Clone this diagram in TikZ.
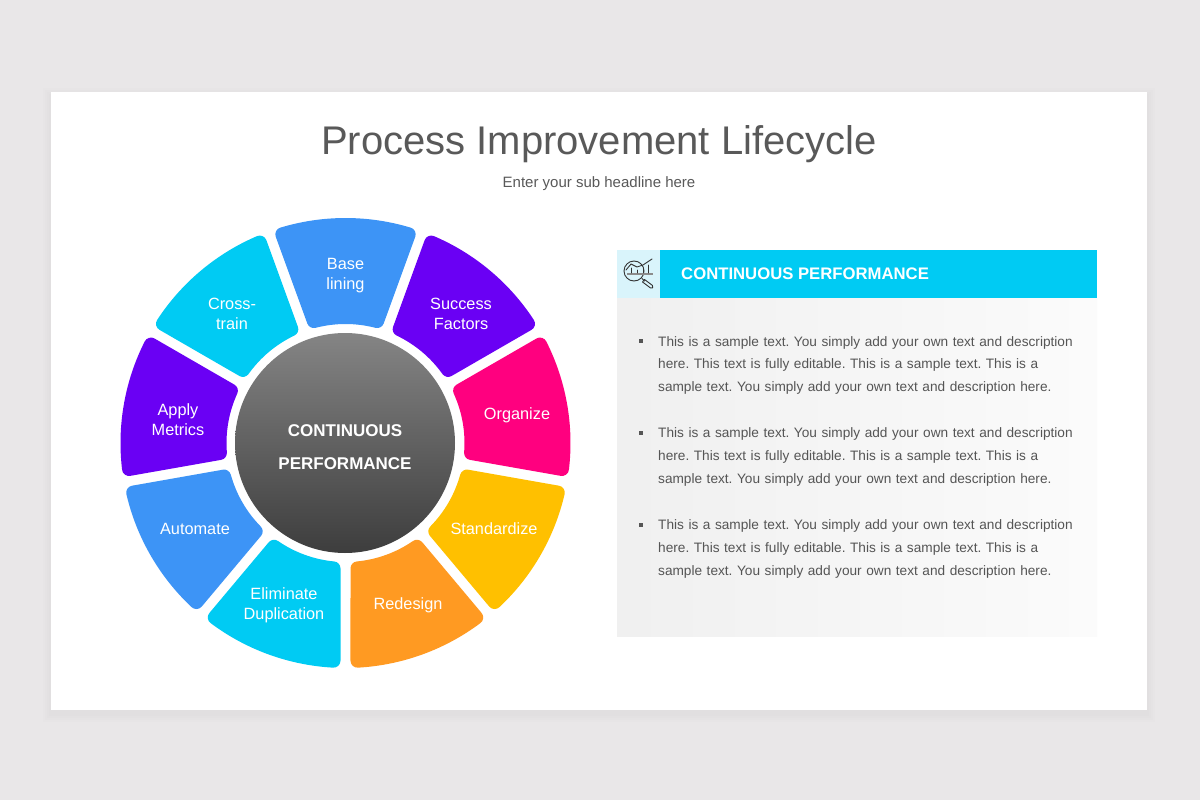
\documentclass[tikz,border=0pt]{standalone}
\usepackage{fontspec}
\setmainfont{Liberation Sans}
\frenchspacing
\definecolor{pagebg}{HTML}{E9E7E8}
\definecolor{cyanseg}{HTML}{00CBF3}
\definecolor{blueseg}{HTML}{3D94F6}
\definecolor{purpleseg}{HTML}{6A00F4}
\definecolor{pinkseg}{HTML}{FF007F}
\definecolor{yellowseg}{HTML}{FFC000}
\definecolor{orangeseg}{HTML}{FF9A22}
\definecolor{titlegray}{HTML}{595959}
\definecolor{bodygray}{HTML}{555555}
\definecolor{iconbg}{HTML}{D9F4FB}
\definecolor{icondark}{HTML}{333333}
\newcommand{\wheelseg}[2]{%
  \pgfmathsetmacro{\ao}{#1-20+asin(12/218)}%
  \pgfmathsetmacro{\bo}{#1+20-asin(12/218)}%
  \pgfmathsetmacro{\ai}{#1-20+asin(12/126)}%
  \pgfmathsetmacro{\bi}{#1+20-asin(12/126)}%
  \filldraw[segshape,fill=#2,draw=#2] (\ao:218) arc[start angle=\ao,end angle=\bo,radius=218] -- (\bi:126) arc[start angle=\bi,end angle=\ai,radius=126] -- cycle;%
}
\tikzset{
  segshape/.style={line width=14pt,line join=round},
  seglabel/.style={text=white,font=\fontsize{16.3}{20}\selectfont,align=center,inner sep=0pt},
  hublabel/.style={text=white,font=\bfseries\fontsize{17}{21}\selectfont,inner sep=0pt},
  bodytext/.style={text=bodygray,font=\fontsize{13.65}{22.9}\selectfont,align=left,anchor=north west,inner sep=0pt,text width=460pt},
  bulletmark/.style={fill=bodygray,minimum size=4pt,inner sep=0pt,draw=none,rectangle},
  iconline/.style={draw=icondark,line width=0.9pt,line cap=round,line join=round}
}
\begin{document}
\begin{tikzpicture}[x=1pt,y=-1pt]
\useasboundingbox (0,0) rectangle (1200,800);
\fill[pagebg] (0,0) rectangle (1200,800);
% card shadow
\foreach \s in {8,6,4,2}{
  \fill[black,opacity=0.006] (51-\s,92-\s+4) rectangle (1147+\s,710+\s+4);
}
\fill[white] (51,92) rectangle (1147,710);
% heading
\node[text=titlegray,font=\fontsize{40}{48}\selectfont,inner sep=0pt] (title) at (599,144.5) {Process Improvement Lifecycle};
\node[text=titlegray,font=\fontsize{15}{19}\selectfont,inner sep=0pt] (subtitle) at (599,183.5) {Enter your sub headline here};
% wheel
\begin{scope}[shift={(345.5,443)},y=1pt]
\wheelseg{90}{blueseg}
\wheelseg{50}{purpleseg}
\wheelseg{10}{pinkseg}
\wheelseg{-30}{yellowseg}
\wheelseg{-70}{orangeseg}
\wheelseg{-110}{cyanseg}
\wheelseg{-150}{blueseg}
\wheelseg{170}{purpleseg}
\wheelseg{130}{cyanseg}
\end{scope}
\shade[top color=black!48,bottom color=black!76,draw=none] (345,443) circle[radius=110];
\node[hublabel] (hubA) at (345,430.5) {CONTINUOUS};
\node[hublabel] (hubB) at (345,463.5) {PERFORMANCE};
\node[seglabel] (base) at (345.5,276) {Base\\lining};
\node[seglabel] (success) at (461,314) {Success\\Factors};
\node[seglabel] (organize) at (517,415) {Organize};
\node[seglabel] (standard) at (494,529) {Standardize};
\node[seglabel] (redesign) at (408,605) {Redesign};
\node[seglabel] (eliminate) at (284,605) {Eliminate\\Duplication};
\node[seglabel] (automate) at (195,529) {Automate};
\node[seglabel] (apply) at (178,420) {Apply\\Metrics};
\node[seglabel] (cross) at (232,314) {Cross-\\train};
% right panel
\shade[left color=black!6,right color=black!1.5] (617,298) rectangle (1097,636);
\fill[cyanseg] (660,250) rectangle (1097,298);
\fill[iconbg] (617,250) rectangle (660,298);
\node[text=white,font=\bfseries\fontsize{16.7}{21}\selectfont,anchor=west,inner sep=0pt] (paneltitle) at (681,274) {CONTINUOUS PERFORMANCE};
% icon
\draw[iconline] (634,271) circle[radius=10];
\draw[iconline] (642,278.5) -- (644.5,281);
\draw[iconline] (644.5,279.5) -- (652.5,285.5) .. controls (654,287) and (652,289.5) .. (650.5,288) -- (642.5,282) -- cycle;
\draw[iconline] (626,270) -- (631,264) -- (637,267) -- (643,265) -- (652,259);
\draw[draw=black!45,line width=1.6pt] (627,274) -- (653,274);
\draw[iconline,line width=0.7pt] (631,268) -- (631,273) (637,270) -- (637,273) (643,269) -- (643,273) (648,265) -- (648,273);
% body text
\node[bulletmark] (b1) at (640.5,341) {};
\node[bulletmark] (b2) at (640.5,433) {};
\node[bulletmark] (b3) at (640.5,524.5) {};
\node[bodytext] (p1) at (658,336) {This is a sample text. You simply add your own text and description\\here. This text is fully editable. This is a sample text. This is a\\sample text. You simply add your own text and description here.};
\node[bodytext] (p2) at (658,427.7) {This is a sample text. You simply add your own text and description\\here. This text is fully editable. This is a sample text. This is a\\sample text. You simply add your own text and description here.};
\node[bodytext] (p3) at (658,519.4) {This is a sample text. You simply add your own text and description\\here. This text is fully editable. This is a sample text. This is a\\sample text. You simply add your own text and description here.};
\end{tikzpicture}
\end{document}
